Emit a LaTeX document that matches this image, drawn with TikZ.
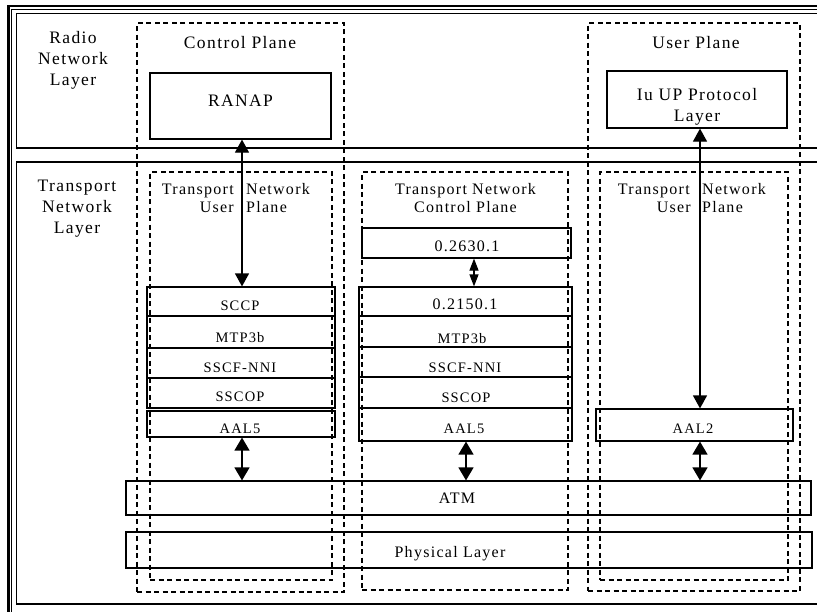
\documentclass[tikz,border=0pt]{standalone}
\usepackage{fontspec}
\setmainfont{Liberation Serif}[LetterSpace=8]
\usetikzlibrary{arrows.meta,fit}
\begin{document}
\begin{tikzpicture}[x=1pt,y=-1pt,
  box/.style={draw,line width=1.2pt,inner sep=0pt},
  dbox/.style={draw,line width=1.1pt,dash pattern=on 5pt off 3.5pt,inner sep=0pt},
  big/.style={font=\fontsize{17.5}{21}\selectfont,inner sep=0pt},
  mid/.style={font=\fontsize{16}{18}\selectfont,inner sep=0pt},
  sml/.style={font=\fontsize{14.5}{17}\selectfont,inner sep=0pt,anchor=base},
  longarr/.style={line width=1.2pt,{Triangle[width=14pt,length=13pt]}-{Triangle[width=14pt,length=13pt]}},
  shortarr/.style={line width=1.4pt,{Triangle[width=15pt,length=13pt]}-{Triangle[width=15pt,length=13pt]}},
  diamarr/.style={line width=1.2pt,{Triangle[width=9pt,length=12pt]}-{Triangle[width=9pt,length=12pt]}}
]
\clip (0,0) rectangle (817,611);
\fill[white] (0,0) rectangle (817,611);
% frame
\draw[line width=2.5pt] (8.7,6.2) rectangle (840,640);
\draw[line width=1pt] (11.7,9.3) rectangle (835,635);
\node[box,line width=1.3pt,fit={(16.7,13.3) (830,148)}] (rnl) {};
\node[box,line width=1.3pt,fit={(16.7,162) (830,604)}] (tnl) {};
% dashed planes
\node[dbox,fit={(137,23) (344,592)}] (cp) {};
\node[dbox,fit={(588,23) (800,591)}] (up) {};
\node[dbox,fit={(150,172) (332,580)}] (tnupl) {};
\node[dbox,fit={(362,172) (568,590)}] (tncp) {};
\node[dbox,fit={(600,172) (788,580)}] (tnupr) {};
% boxes
\node[box,fit={(150,73) (331,139)}] (ranap) {};
\node[box,fit={(607,71) (787,128)}] (iu) {};
\node[box,fit={(147,287) (335,316)}] (sccp) {};
\node[box,fit={(147,316) (335,348)}] (mtpl) {};
\node[box,fit={(147,348) (335,378)}] (sscfl) {};
\node[box,fit={(147,378) (335,408)}] (sscopl) {};
\node[box,fit={(147,411) (335,437)}] (aal5l) {};
\node[box,fit={(362,228) (571,258)}] (q2630) {};
\node[box,fit={(359,287) (572,316)}] (q2150) {};
\node[box,fit={(359,316) (572,347)}] (mtpm) {};
\node[box,fit={(359,347) (572,377)}] (sscfm) {};
\node[box,fit={(359,377) (572,408)}] (sscopm) {};
\node[box,fit={(359,408) (572,441)}] (aal5m) {};
\node[box,fit={(596,409) (793,441)}] (aal2) {};
\node[box,fit={(126,481) (811,515)}] (atm) {};
\node[box,fit={(126,532) (812,568)}] (phy) {};
% arrows
\coordinate (xl) at (242,0);
\coordinate (xm) at (466,0);
\coordinate (xr) at (700,0);
\coordinate (xq) at (474,0);
\draw[longarr] (ranap.south -| xl) -- (sccp.north -| xl);
\draw[longarr] (iu.south -| xr) -- (aal2.north -| xr);
\draw[shortarr] (aal5l.south -| xl) -- (atm.north -| xl);
\draw[shortarr] (aal5m.south -| xm) -- (atm.north -| xm);
\draw[shortarr] (aal2.south -| xr) -- (atm.north -| xr);
\draw[diamarr] (q2630.south -| xq) -- (q2150.north -| xq);
% texts
\node[big,align=center] (t-rnl) at (73,60) {Radio\\Network\\Layer};
\node[big,align=center] (t-tnl) at (77,209) {Transport\\Network\\Layer};
\node[big,anchor=base] (t-cp) at (240,48) {Control Plane};
\node[big,anchor=base] (t-up) at (696,48) {User Plane};
\node[big,anchor=base] (t-ranap) at (240.5,106) {RANAP};
\node[big,align=center] (t-iu) at (697,107) {Iu UP Protocol\\Layer};
\node[mid,anchor=base east] (t-l1) at (234,194) {Transport};
\node[mid,anchor=base west] (t-l2) at (246,194) {Network};
\node[mid,anchor=base east] (t-l3) at (234,212) {User};
\node[mid,anchor=base west] (t-l4) at (246,212) {Plane};
\node[mid,anchor=base east] (t-r1) at (690,194) {Transport};
\node[mid,anchor=base west] (t-r2) at (702,194) {Network};
\node[mid,anchor=base east] (t-r3) at (691,212) {User};
\node[mid,anchor=base west] (t-r4) at (702,212) {Plane};
\node[mid,align=center] (t-m) at (465.5,198.5) {Transport Network\\Control Plane};
\node[mid,anchor=base] (t-q2630) at (467,251) {0.2630.1};
\node[mid,anchor=base] (t-q2150) at (465,309) {0.2150.1};
\node[sml] (t-sccp) at (240,310) {SCCP};
\node[sml] (t-mtpl) at (240,342) {MTP3b};
\node[sml] (t-sscfl) at (240,372) {SSCF-NNI};
\node[sml] (t-sscopl) at (240,401) {SSCOP};
\node[sml] (t-aal5l) at (240,433) {AAL5};
\node[sml] (t-mtpm) at (462,343) {MTP3b};
\node[sml] (t-sscfm) at (465,372) {SSCF-NNI};
\node[sml] (t-sscopm) at (466,402) {SSCOP};
\node[sml] (t-aal5m) at (464,433) {AAL5};
\node[sml] (t-aal2) at (693,433) {AAL2};
\node[mid,anchor=base] (t-atm) at (457,503) {ATM};
\node[mid,anchor=base] (t-phy) at (450,557) {Physical Layer};
\end{tikzpicture}
\end{document}
